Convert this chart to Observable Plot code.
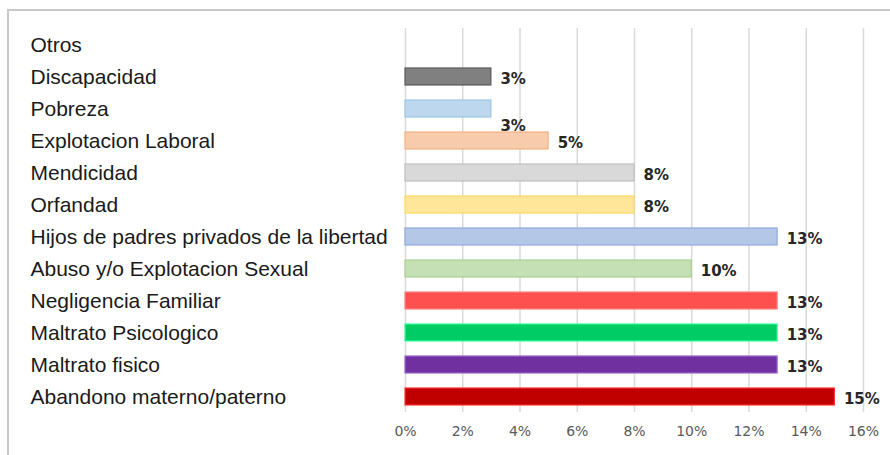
<!DOCTYPE html>
<html>
<head>
<meta charset="utf-8">
<script src="https://cdn.jsdelivr.net/npm/d3@7"></script>
<script src="https://cdn.jsdelivr.net/npm/@observablehq/plot@0.6"></script>
<style>
  html, body { margin: 0; padding: 0; background: #fff; }
  #wrap { position: relative; width: 890px; height: 455px; overflow: hidden; }
  #frame { position: absolute; left: 7px; top: 9px; width: 900px; height: 460px;
           border-left: 2px solid #c8c8c8; border-top: 2px solid #c8c8c8; box-sizing: border-box; }
  #chart { position: absolute; left: 0; top: 0; }
</style>
</head>
<body>
<div id="wrap"><div id="frame"></div><div id="chart"></div></div>
<script>
const categories = ["Otros", "Discapacidad", "Pobreza", "Explotacion Laboral", "Mendicidad", "Orfandad",
  "Hijos de padres privados de la libertad", "Abuso y/o Explotacion Sexual", "Negligencia Familiar",
  "Maltrato Psicologico", "Maltrato fisico", "Abandono materno/paterno"];
const values = [null, 3, 3, 5, 8, 8, 13, 10, 13, 13, 13, 15];
const fills = [null, "#808080", "#bdd7ee", "#f8cbad", "#d9d9d9", "#ffe699", "#b4c7e7", "#c5e0b4", "#ff5050", "#00cc66", "#7030a0", "#c00000"];
const strokes = [null, "#5a5a5a", "#9dc3e6", "#f4b183", "#bfbfbf", "#ffd966", "#8faadc", "#a9d18e", "#ff8080", "#33ff99", "#9966cc", "#ff3333"];
const xTicks = [0, 2, 4, 6, 8, 10, 12, 14, 16];

const data = categories.map((c, i) => ({cat: c, v: values[i], fill: fills[i], stroke: strokes[i]}));
const bars = data.filter(d => d.v != null);
const labelsMain = bars.filter(d => d.cat !== "Pobreza");
const labelsShift = bars.filter(d => d.cat === "Pobreza");

const chart = Plot.plot({
  width: 890,
  height: 455,
  marginLeft: 405,
  marginRight: 27,
  marginTop: 28,
  marginBottom: 43,
  style: {fontFamily: "DejaVu Sans", background: "transparent"},
  x: {domain: [0, 16], ticks: xTicks, label: null},
  y: {domain: categories, paddingInner: 0.48, paddingOuter: 0.24, label: null},
  marks: [
    Plot.ruleX(xTicks, {stroke: "#d9d9d9", strokeWidth: 1.5}),
    Plot.barX(bars, {x: "v", y: "cat", fill: d => d.fill, stroke: d => d.stroke, strokeWidth: 1.2}),
    Plot.text(labelsMain, {x: "v", y: "cat", text: d => d.v + "%", textAnchor: "start", dx: 9, dy: 2,
      fontSize: 15, fontWeight: "bold", fill: "#262626"}),
    Plot.text(labelsShift, {x: "v", y: "cat", text: d => d.v + "%", textAnchor: "start", dx: 9, dy: 17,
      fontSize: 15, fontWeight: "bold", fill: "#262626"}),
    Plot.axisX({ticks: xTicks, tickFormat: d => d + "%", tickSize: 0, tickPadding: 14, fontSize: 14,
      fill: "#595959", label: null}),
    Plot.axisY({tickSize: 0, tickPadding: 0, textAnchor: "start", dx: -375, fontSize: 21, fill: "#1a1a1a",
      fontFamily: "Liberation Sans", label: null})
  ]
});
document.getElementById("chart").appendChild(chart);
</script>
</body>
</html>
